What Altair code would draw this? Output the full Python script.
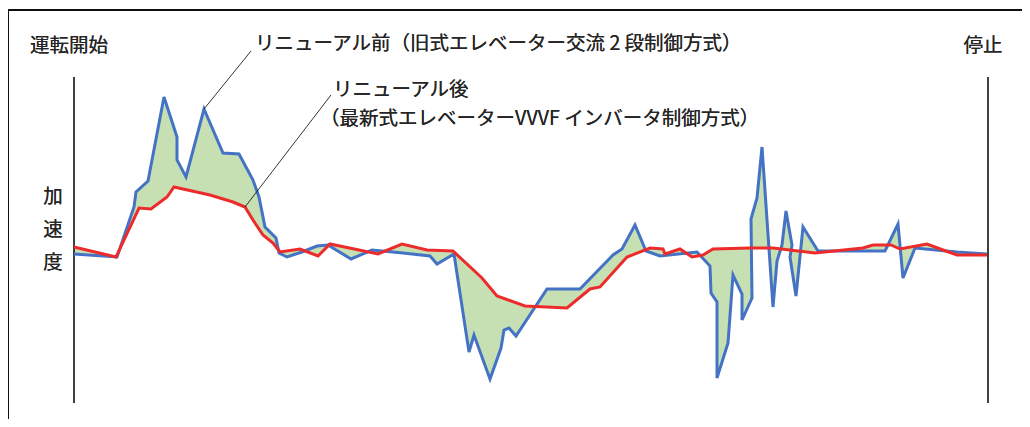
import altair as alt
import pandas as pd

# ---- data (time from start, acceleration in arbitrary units) ----
before_t = [0, 43, 60, 62, 74, 90, 103, 103, 112, 130, 149, 165, 179, 185, 191, 202, 205, 213,
            228, 243, 254, 277, 298, 329, 356, 363, 380, 395, 400, 416, 427, 430, 435, 442,
            473, 506, 539, 548, 561, 572, 586, 623, 636, 637, 643, 643, 654, 659, 668, 668,
            678, 677, 683, 688, 699, 703, 708, 712, 718, 716, 722, 729, 744, 811, 824, 829,
            841, 883, 913]
before_a = [0, -3, 47, 62, 73, 157, 117, 94, 77, 145, 101, 100, 74, 57, 27, 16, 1, -3,
            2, 8, 9, -5, 4, 1, -2, -10, 0, -98, -81, -125, -94, -76, -74, -82,
            -35, -35, -1, 5, 29, 3, -2, 2, -12, -39, -48, -124, -89, -21, -40, -66,
            -44, 35, 56, 107, -53, -7, 9, 43, 9, -3, -42, 27, 3, 3, 30, -24,
            6, 2, 0]

after_t = [0, 42, 65, 77, 93, 100, 136, 159, 171, 179, 189, 199, 206, 226, 244, 256, 304, 328,
           353, 379, 408, 423, 451, 493, 516, 526, 553, 576, 589, 591, 606, 618, 629, 639,
           676, 699, 741, 789, 799, 817, 826, 853, 869, 883, 913]
after_a = [7, -3, 46, 45, 57, 67, 59, 52, 47, 34, 19, 11, 2, 5, -2, 10, 0, 10,
           4, 3, -24, -42, -52, -54, -35, -33, -3, 6, 5, 0, 5, -3, -1, 5,
           6, 6, 1, 6, 9, 9, 5, 10, 4, -1, -1]

start_label = "運転開始"
stop_label = "停止"
y_label = ["加", "速", "度"]
before_label = "リニューアル前（旧式エレベーター交流 2 段制御方式）"
after_label = ["リニューアル後", "（最新式エレベーターVVVF インバータ制御方式）"]

# ---- layout ----
W, H = 1014, 411
FONT = "Noto Sans CJK JP"
FS = 19.5
xs = alt.Scale(domain=[-66, 948], nice=False, zero=False)
ys = alt.Scale(domain=[-165, 246], nice=False, zero=False)

df_b = pd.DataFrame({"t": before_t, "a": before_a, "i": range(len(before_t))})
df_r = pd.DataFrame({"t": after_t, "a": after_a, "i": range(len(after_t))})
poly = pd.DataFrame({"t": before_t + after_t[::-1], "a": before_a + after_a[::-1]})
poly["i"] = range(len(poly))


def X(f="t"):
    return alt.X(f"{f}:Q", scale=xs, axis=None)


def Y(f="a"):
    return alt.Y(f"{f}:Q", scale=ys, axis=None)


fill = alt.Chart(poly).mark_line(fill="#c6e0b4", strokeWidth=0).encode(
    x=X(), y=Y(), order="i:Q")

blue = alt.Chart(df_b).mark_line(color="#4472c4", strokeWidth=3).encode(
    x=X(), y=Y(), order="i:Q")
red = alt.Chart(df_r).mark_line(color="#ee2b2b", strokeWidth=3).encode(
    x=X(), y=Y(), order="i:Q")

# start / stop markers
marks = pd.DataFrame({"t": [0, 914], "a": [177, 177], "a2": [-149, -149]})
vlines = alt.Chart(marks).mark_rule(color="black", strokeWidth=1.5).encode(
    x=X(), y=Y(), y2="a2:Q")

# leader lines
leaders = pd.DataFrame({"t": [130, 171], "a": [145, 47], "t2": [177, 257], "a2": [203, 159]})
lead = alt.Chart(leaders).mark_rule(color="black", strokeWidth=0.8).encode(
    x=X(), y=Y(), x2="t2:Q", y2="a2:Q")

# frame
frame_top = alt.Chart(marks).mark_rule(color="black", strokeWidth=1.5).encode(
    x=alt.value(0), x2=alt.value(W), y=alt.value(2))
frame_left = alt.Chart(marks).mark_rule(color="black", strokeWidth=1.5).encode(
    x=alt.value(0), y=alt.value(2), y2=alt.value(H))


def txt(s, x, y, align="left", **kw):
    return alt.Chart(marks).mark_text(
        text=s, font=FONT, fontSize=FS, color="#262626", align=align, baseline="middle", **kw
    ).encode(x=alt.value(x), y=alt.value(y))


texts = [
    txt(start_label, 22, 38),
    txt(stop_label, 975, 38, "center"),
    txt(y_label[0], 45, 189, "center"),
    txt(y_label[1], 45, 222, "center"),
    txt(y_label[2], 45, 255, "center"),
    txt(before_label, 247, 36),
    txt(after_label[0], 325, 82),
    txt(after_label[1], 312, 110.5),
]

chart = alt.layer(frame_top, frame_left, fill, vlines, blue, red, lead, *texts).properties(
    width=W, height=H, padding=0, autosize=alt.AutoSizeParams(type="none")
).configure_view(stroke=None)

chart.save("out.html", embed_options={"renderer": "svg", "actions": False})
